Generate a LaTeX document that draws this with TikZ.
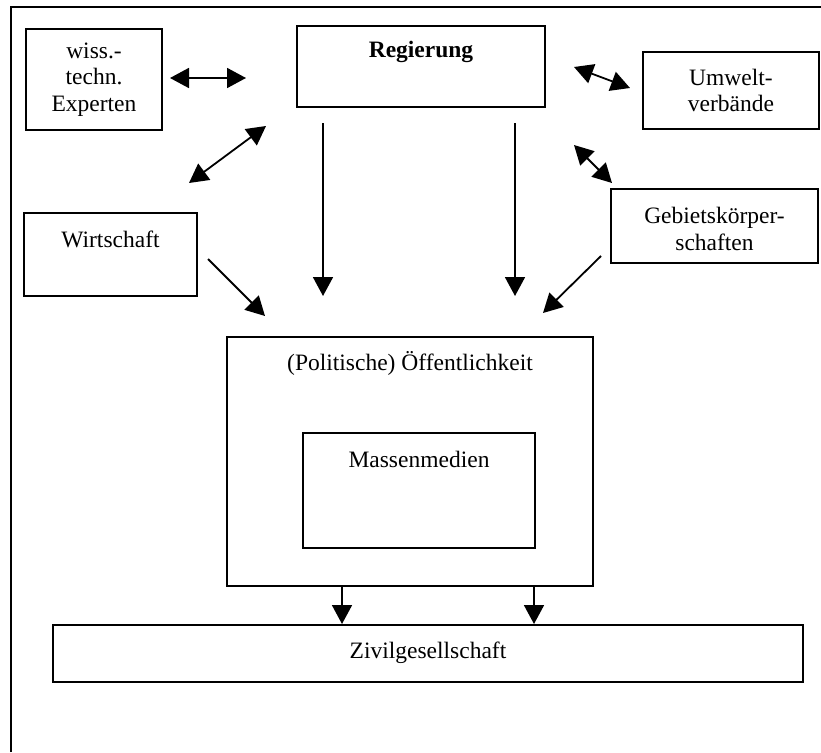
\documentclass[tikz,border=0pt]{standalone}
\usepackage{fontspec}
\setmainfont{Liberation Serif}
\usetikzlibrary{arrows.meta}
\begin{document}
\begin{tikzpicture}[x=1pt,y=-1pt,
  box/.style={draw,line width=2pt,rectangle,inner sep=0pt},
  txt/.style={font=\fontsize{23.5}{26.5}\selectfont,align=center,inner sep=0pt},
  arr/.style={line width=1.8pt,-{Triangle[length=19pt,width=20pt]}},
  dbl/.style={line width=1.8pt,{Triangle[length=19pt,width=20pt]}-{Triangle[length=19pt,width=20pt]}},
]
\useasboundingbox (0,0) rectangle (821,752);
% frame (only top and left edges visible)
\draw[line width=2.4pt] (11,752) -- (11,7) -- (821,7);

% boxes
\node[box,minimum width=136pt,minimum height=101pt] (wiss) at (94,79.5) {};
\node[box,minimum width=248pt,minimum height=81pt] (reg) at (421,66.5) {};
\node[box,minimum width=176pt,minimum height=77pt] (umw) at (731,90.5) {};
\node[box,minimum width=207pt,minimum height=74pt] (geb) at (714.5,226) {};
\node[box,minimum width=173pt,minimum height=83pt] (wirt) at (110.5,254.5) {};
\node[box,minimum width=366pt,minimum height=249pt] (oeff) at (410,461.5) {};
\node[box,minimum width=232pt,minimum height=115pt] (mass) at (419,490.5) {};
\node[box,minimum width=750pt,minimum height=57pt] (ziv) at (428,653.5) {};

% texts
\node[txt] (wisst) at (wiss.center) {wiss.-\\techn.\\Experten};
\node[txt,anchor=base,font=\fontsize{23.5}{26.5}\selectfont\bfseries] (regt) at (421,58) {Regierung};
\node[txt] (umwt) at (umw.center) {Umwelt-\\verbände};
\node[txt] (gebt) at ([yshift=-3pt]geb.center) {Gebietskörper-\\schaften};
\node[txt,anchor=base] (wirtt) at (110.5,247) {Wirtschaft};
\node[txt,anchor=base] (oefft) at (410,370) {(Politische) Öffentlichkeit};
\node[txt,anchor=base] (masst) at (419,467) {Massenmedien};
\node[txt,anchor=base] (zivt) at (428,658) {Zivilgesellschaft};

% connector end points
\coordinate (a1) at (170,78);   \coordinate (a2) at (246,78);
\coordinate (b1) at (266,126);  \coordinate (b2) at (189,183);
\coordinate (c1) at (574,67);   \coordinate (c2) at (630,88);
\coordinate (d1) at (574,145);  \coordinate (d2) at (612,183);
\coordinate (e1) at (323,123);  \coordinate (e2) at (323,296);
\coordinate (f1) at (515,123);  \coordinate (f2) at (515,296);
\coordinate (g1) at (208,259);  \coordinate (g2) at (265,316);
\coordinate (h1) at (601,256);  \coordinate (h2) at (543,313);

\draw[dbl] (a1) -- (a2);
\draw[dbl] (b1) -- (b2);
\draw[dbl] (c1) -- (c2);
\draw[dbl] (d1) -- (d2);
\draw[arr] (e1) -- (e2);
\draw[arr] (f1) -- (f2);
\draw[arr] (g1) -- (g2);
\draw[arr] (h1) -- (h2);

\draw[arr] ([xshift=116pt]oeff.south west) -- ([xshift=116pt]oeff.south west |- ziv.north);
\draw[arr] ([xshift=308pt]oeff.south west) -- ([xshift=308pt]oeff.south west |- ziv.north);
\end{tikzpicture}
\end{document}
